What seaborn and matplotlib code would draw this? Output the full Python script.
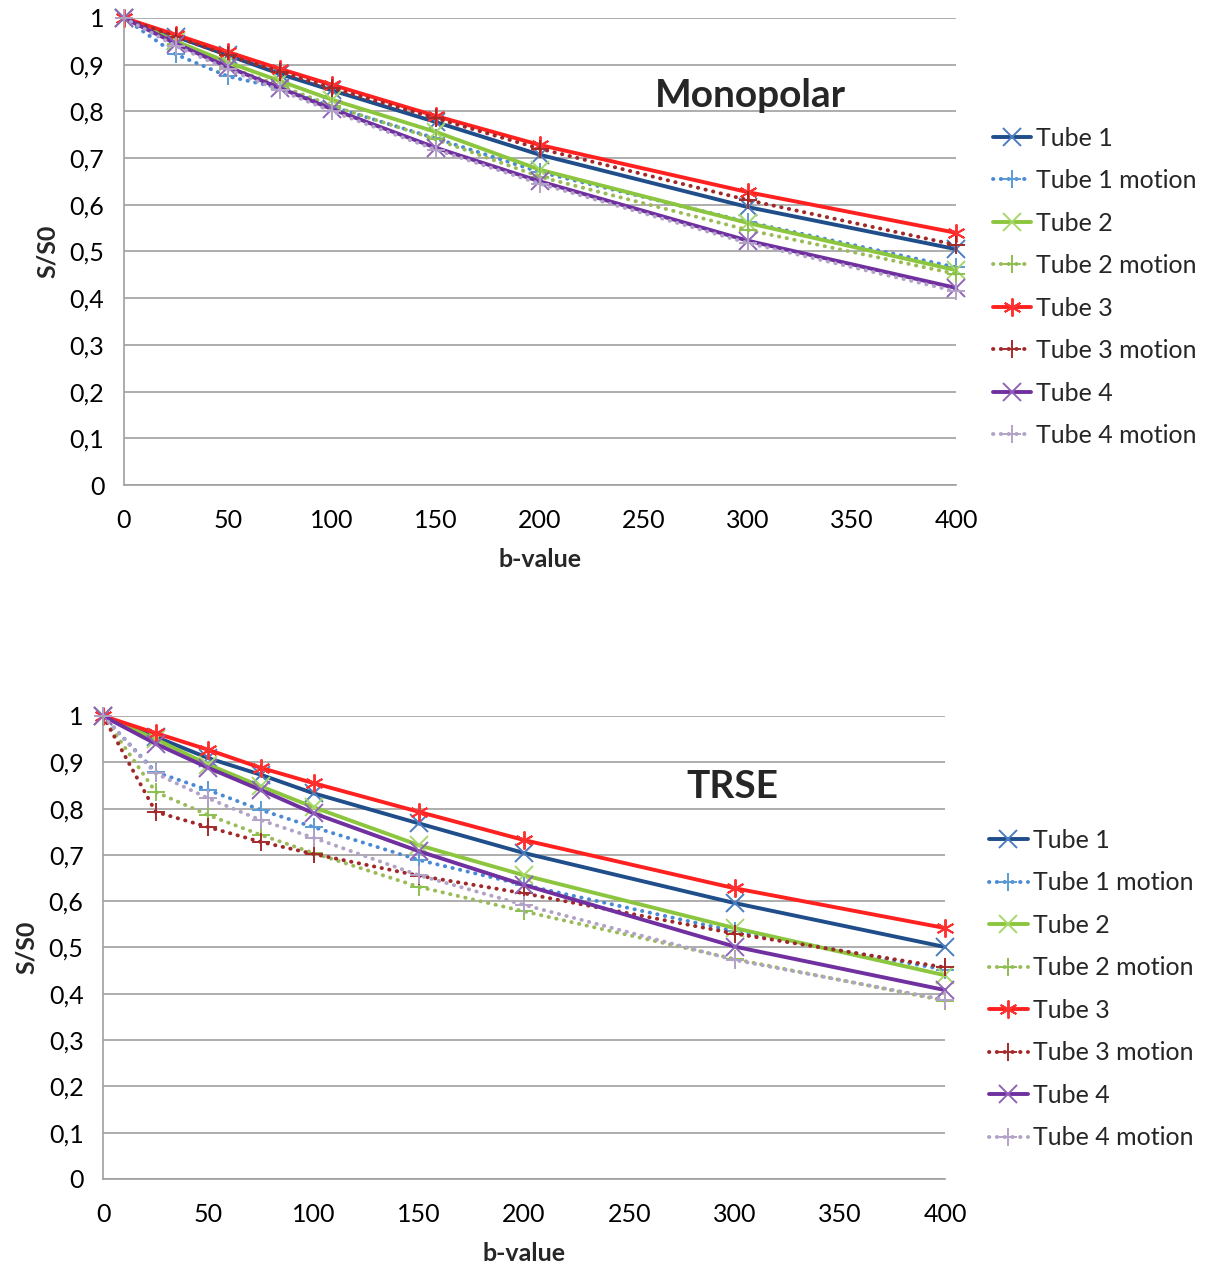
import pandas as pd
import seaborn as sns
import matplotlib.pyplot as plt

# b-values shared by both sequences
b_values = [0, 25, 50, 75, 100, 150, 200, 300, 400]

# Monopolar, S/S0
mono_tube1 = [1, 0.96, 0.92, 0.88, 0.845, 0.777, 0.707, 0.595, 0.505]
mono_tube1_motion = [1, 0.922, 0.875, 0.85, 0.81, 0.742, 0.67, 0.563, 0.466]
mono_tube2 = [1, 0.95, 0.905, 0.865, 0.825, 0.756, 0.675, 0.561, 0.46]
mono_tube2_motion = [1, 0.945, 0.895, 0.855, 0.812, 0.74, 0.66, 0.546, 0.452]
mono_tube3 = [1, 0.964, 0.927, 0.891, 0.857, 0.79, 0.728, 0.627, 0.54]
mono_tube3_motion = [1, 0.96, 0.92, 0.885, 0.85, 0.785, 0.72, 0.61, 0.514]
mono_tube4 = [1, 0.945, 0.895, 0.85, 0.805, 0.722, 0.65, 0.523, 0.422]
mono_tube4_motion = [1, 0.94, 0.89, 0.845, 0.8, 0.718, 0.645, 0.518, 0.415]

# TRSE, S/S0
trse_tube1 = [1, 0.955, 0.909, 0.873, 0.833, 0.768, 0.704, 0.596, 0.501]
trse_tube1_motion = [1, 0.879, 0.84, 0.797, 0.76, 0.689, 0.635, 0.535, 0.452]
trse_tube2 = [1, 0.95, 0.895, 0.848, 0.803, 0.721, 0.656, 0.542, 0.44]
trse_tube2_motion = [1, 0.836, 0.786, 0.743, 0.704, 0.631, 0.578, 0.475, 0.385]
trse_tube3 = [1, 0.963, 0.927, 0.888, 0.855, 0.793, 0.732, 0.628, 0.542]
trse_tube3_motion = [1, 0.793, 0.76, 0.728, 0.702, 0.655, 0.617, 0.53, 0.457]
trse_tube4 = [1, 0.94, 0.888, 0.84, 0.79, 0.708, 0.635, 0.502, 0.408]
trse_tube4_motion = [1, 0.876, 0.822, 0.775, 0.737, 0.656, 0.592, 0.473, 0.387]

series_names = ["Tube 1", "Tube 1 motion", "Tube 2", "Tube 2 motion",
                "Tube 3", "Tube 3 motion", "Tube 4", "Tube 4 motion"]
mono_values = [mono_tube1, mono_tube1_motion, mono_tube2, mono_tube2_motion,
               mono_tube3, mono_tube3_motion, mono_tube4, mono_tube4_motion]
trse_values = [trse_tube1, trse_tube1_motion, trse_tube2, trse_tube2_motion,
               trse_tube3, trse_tube3_motion, trse_tube4, trse_tube4_motion]

y_ticks = [0, 0.1, 0.2, 0.3, 0.4, 0.5, 0.6, 0.7, 0.8, 0.9, 1]
y_tick_labels = ["0", "0,1", "0,2", "0,3", "0,4", "0,5", "0,6", "0,7", "0,8", "0,9", "1"]
x_ticks = [0, 50, 100, 150, 200, 250, 300, 350, 400]

# style per series
dots = (0, (0.1, 1.9))
line_colors = ["#1f4e8a", "#4a8ad4", "#8cc63f", "#9bbb59",
               "#ff2020", "#a02828", "#7030a0", "#b3a2c7"]
marker_colors = ["#4a7ec0", "#5b9bd5", "#a8d86a", "#8cc050",
                 "#ff3030", "#a52a2a", "#8f64b8", "#b3a2c7"]
line_styles = ["-", dots, "-", dots, "-", dots, "-", dots]
markers = ["x", "+", "x", "+", (6, 2, 0), "+", "x", "+"]

sns.set_theme(style="white")
plt.rcParams['font.family'] = ['Lato', 'DejaVu Sans']

fig = plt.figure(figsize=(12.08, 12.65), dpi=100)
ax_top = fig.add_axes([0.1026, 0.6166, 0.6888, 0.3692])
ax_bot = fig.add_axes([0.0853, 0.0680, 0.6970, 0.3660])


def draw_panel(ax, values, title, title_xy, legend_xy):
    for name, vals, lc, mc, ls, mk in zip(series_names, values, line_colors,
                                          marker_colors, line_styles, markers):
        df = pd.DataFrame({"b": b_values, "s": vals})
        sns.lineplot(data=df, x="b", y="s", ax=ax, color=lc, linestyle=ls,
                     linewidth=2.8, marker=mk, markersize=13, markeredgewidth=1.4,
                     markeredgecolor=mc, markerfacecolor=mc, label=name,
                     clip_on=False, dash_capstyle="round", solid_capstyle="round")
    ax.set_xlim(0, 400)
    ax.set_ylim(0, 1)
    ax.set_yticks(y_ticks)
    ax.set_yticklabels(y_tick_labels)
    ax.set_xticks(x_ticks)
    ax.tick_params(axis="both", length=0, labelsize=18, colors="black")
    ax.tick_params(axis="y", pad=14)
    ax.tick_params(axis="x", pad=17)
    ax.yaxis.grid(True, color="#a0a0a0", linewidth=1.2)
    ax.xaxis.grid(False)
    for side in ["top", "right"]:
        ax.spines[side].set_visible(False)
    for side in ["left", "bottom"]:
        ax.spines[side].set_color("#a0a0a0")
        ax.spines[side].set_linewidth(1.2)
    ax.set_xlabel("b-value", fontsize=18, fontweight="bold", labelpad=12)
    ax.set_ylabel("S/S0", fontsize=18, fontweight="bold", labelpad=8)
    ax.text(title_xy[0], title_xy[1], title, fontsize=28, fontweight="bold",
            ha="center", va="center")
    ax.legend(loc="center left", bbox_to_anchor=legend_xy, frameon=False,
              fontsize=18, handlelength=1.55, handletextpad=0.2,
              labelspacing=0.78, borderaxespad=0, borderpad=0)


draw_panel(ax_top, mono_values, "Monopolar", (301, 0.835), (1.044, 0.424))
draw_panel(ax_bot, trse_values, "TRSE", (299, 0.847), (1.052, 0.41))

fig.savefig("out.png", dpi=100, facecolor="white")
